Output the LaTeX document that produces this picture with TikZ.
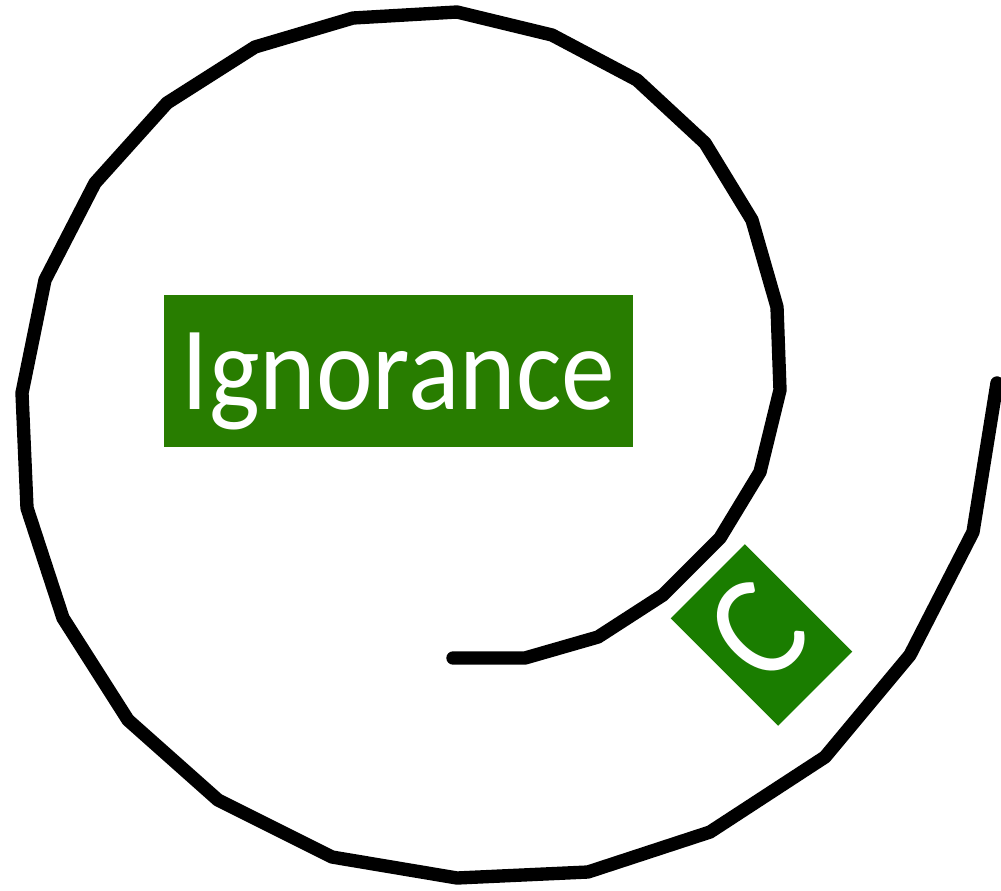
\documentclass[tikz,border=0pt]{standalone}
\usepackage{fontspec}
\newfontfamily\tagfont[FakeStretch=0.9]{Carlito}
\usetikzlibrary{positioning}
\definecolor{boxgreen}{RGB}{40,125,0}
\definecolor{taggreen}{RGB}{26,125,0}

\begin{document}
\begin{tikzpicture}[x=0.02cm, y=-0.02cm,
  tagbox/.style={fill=#1, text=white, inner sep=0pt, inner xsep=0.34cm,
    font=\tagfont\fontsize{68}{70}\selectfont,
    text height=1.54cm, text depth=0pt, minimum height=3.04cm},
  spiral/.style={line width=7.6pt, line cap=round, line join=round}]
  \useasboundingbox (0,0) rectangle (1001,890);
  % spiral, from the outer end inwards
  \draw[spiral] (997,383) -- (973,532) -- (910,655) -- (825,757) -- (710,832)
    -- (588,872) -- (457,878) -- (332,857) -- (218,800) -- (128,720)
    -- (63,618) -- (27,508) -- (22,393) -- (45,280) -- (95,183)
    -- (167,103) -- (255,47) -- (353,18) -- (457,12) -- (552,35)
    -- (637,80) -- (705,143) -- (752,220) -- (777,307) -- (780,390)
    -- (760,472) -- (720,538) -- (663,595) -- (598,637) -- (525,658)
    -- (453,658);
  % labels
  \node[tagbox=boxgreen, minimum width=9.38cm] (ignorance) at (398.5,371) {Ignorance};
  \node[tagbox=taggreen, minimum width=2.04cm, rotate=45,
    font=\tagfont\fontsize{84}{86}\selectfont, text height=1.66cm] (ctag) at (761.5,635) {C};
\end{tikzpicture}
\end{document}
